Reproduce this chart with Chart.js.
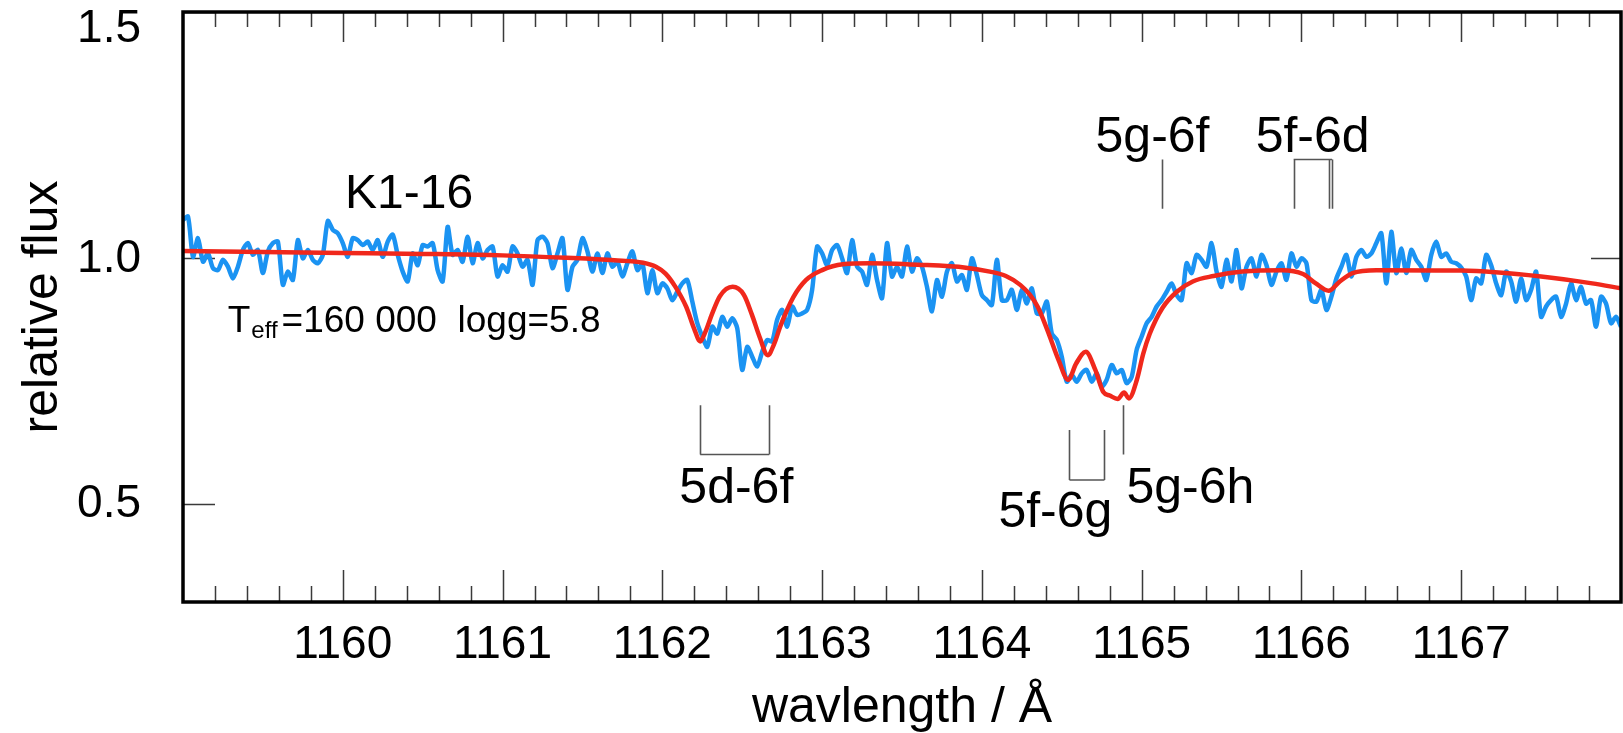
<!DOCTYPE html>
<html>
<head>
<meta charset="utf-8">
<title>K1-16 spectrum</title>
<script src="https://cdn.jsdelivr.net/npm/chart.js@4.4.1/dist/chart.umd.min.js"></script>
<style>
    html, body { margin: 0; padding: 0; background: #fff; }
    #wrap { width: 1623px; height: 733px; }
</style>
</head>
<body>
<div id="wrap"><canvas id="spectrumChart" width="1623" height="733"></canvas></div>
<script>
// ---- data ----

// observed spectrum (blue), sampled on a regular wavelength grid
const obsStart = 1159.0;
const obsStep = 0.03125;
const obsFlux = [
    1.077, 1.084, 1.002, 1.040, 0.992, 1.009, 0.979, 0.975, 0.996, 0.982,
    0.958, 0.982, 1.016, 1.030, 1.006, 1.016, 0.969, 1.013, 1.030, 1.033,
    0.945, 0.972, 0.955, 1.036, 0.999, 1.016, 0.996, 0.989, 1.006, 1.075,
    1.057, 1.050, 1.030, 1.002, 1.040, 1.036, 1.026, 1.033, 1.016, 1.036,
    1.002, 1.033, 1.047, 1.006, 0.972, 0.952, 1.009, 0.985, 1.026, 1.023,
    1.030, 0.975, 0.952, 1.063, 1.006, 1.016, 0.992, 1.043, 0.989, 1.030,
    0.999, 1.016, 1.023, 0.962,
    0.985, 0.972, 1.023, 1.009, 0.982, 0.996, 0.945, 1.036, 1.043, 1.030,
    0.979, 1.009, 1.040, 0.935, 0.982, 0.996, 1.040, 1.013, 0.972, 1.009,
    0.969, 1.009, 0.982, 0.992, 0.962, 0.989, 1.013, 0.975, 0.989, 0.928,
    0.975, 0.928, 0.948, 0.938, 0.914, 0.931, 0.948, 0.955, 0.911, 0.867,
    0.840, 0.819, 0.860, 0.846, 0.880, 0.860, 0.877, 0.857, 0.772, 0.819,
    0.799, 0.779, 0.809, 0.833, 0.830, 0.874, 0.894, 0.860, 0.901, 0.884,
    0.887, 0.894, 0.935, 1.023,
    1.009, 0.985, 1.016, 1.026, 0.999, 0.969, 1.036, 0.982, 0.972, 0.945,
    1.006, 0.955, 0.918, 1.030, 0.962, 0.982, 0.962, 1.023, 0.972, 0.999,
    0.982, 0.941, 0.891, 0.955, 0.921, 0.972, 0.989, 0.952, 0.965, 0.935,
    0.999, 0.965, 0.924, 0.914, 0.904, 0.996, 0.914, 0.914, 0.935, 0.894,
    0.935, 0.907, 0.938, 0.887, 0.887, 0.911, 0.846, 0.833, 0.799, 0.748,
    0.762, 0.748, 0.765, 0.772, 0.748, 0.765, 0.738, 0.752, 0.782, 0.765,
    0.772, 0.745, 0.758, 0.813,
    0.840, 0.867, 0.880, 0.901, 0.914, 0.931, 0.948, 0.924, 0.914, 0.989,
    0.969, 1.006, 0.996, 0.982, 1.030, 0.972, 0.941, 0.996, 0.952, 1.016,
    0.938, 0.982, 0.999, 0.962, 1.006, 0.985, 0.945, 0.972, 0.989, 0.955,
    1.009, 0.982, 0.999, 0.989, 0.914, 0.911, 0.935, 0.894, 0.921, 0.958,
    0.982, 1.006, 0.962, 1.002, 1.016, 1.002, 1.009, 1.030, 1.050, 0.948,
    1.053, 0.969, 1.019, 0.969, 1.016, 0.996, 0.982, 0.955, 1.006, 1.033,
    1.002, 1.009, 0.992, 0.989,
    0.980, 0.962, 0.914, 0.958, 0.948, 1.006, 0.985, 0.948, 0.924, 0.972,
    0.952, 0.911, 0.958, 0.914, 0.935, 0.972, 0.880, 0.901, 0.914, 0.921,
    0.880, 0.907, 0.948, 0.914, 0.941, 0.907, 0.914, 0.860, 0.921, 0.907,
    0.867, 0.880, 0.860
];

// model spectrum (red)
const modelWave = [
    1159.0, 1159.5, 1160.0, 1160.5, 1161.0, 1161.4, 1161.7, 1161.88, 1161.96, 1162.02,
    1162.08, 1162.15, 1162.20, 1162.237, 1162.27, 1162.31, 1162.36, 1162.44, 1162.51, 1162.56,
    1162.61, 1162.66, 1162.70, 1162.74, 1162.82, 1162.90, 1163.0, 1163.13, 1163.3, 1163.6,
    1163.9, 1164.05, 1164.15, 1164.24, 1164.30, 1164.35, 1164.41, 1164.48, 1164.54, 1164.59,
    1164.65, 1164.71, 1164.76, 1164.80, 1164.85, 1164.89, 1164.92, 1164.97, 1165.01, 1165.05,
    1165.13, 1165.22, 1165.32, 1165.45, 1165.63, 1165.88, 1166.01, 1166.09, 1166.17, 1166.24,
    1166.32, 1166.47, 1167.0, 1167.5, 1167.82, 1168.0
];
const modelFlux = [
    1.014, 1.012, 1.010, 1.008, 1.005, 1.000, 0.995, 0.990, 0.982, 0.968,
    0.942, 0.900, 0.855, 0.830, 0.850, 0.885, 0.922, 0.941, 0.925, 0.885,
    0.838, 0.802, 0.825, 0.862, 0.920, 0.955, 0.975, 0.987, 0.989, 0.986,
    0.980, 0.972, 0.963, 0.945, 0.925, 0.900, 0.853, 0.792, 0.752, 0.785,
    0.809, 0.772, 0.727, 0.720, 0.713, 0.726, 0.714, 0.752, 0.805, 0.845,
    0.898, 0.931, 0.952, 0.963, 0.972, 0.975, 0.967, 0.948, 0.933, 0.952,
    0.969, 0.975, 0.974, 0.962, 0.948, 0.938
];

// axis ticks
const xTicks = [1160, 1161, 1162, 1163, 1164, 1165, 1166, 1167];
const yTicks = [0.5, 1.0, 1.5];
const yTicksRight = [1.0];

// line identifications: wavelengths of the marks and the flux span of each mark
const lineIds = ['5d-6f', '5f-6g', '5g-6h', '5g-6f', '5f-6d'];
const lineWaves = [
    [1162.237, 1162.669],
    [1164.548, 1164.767],
    [1164.886],
    [1165.13],
    [1165.951, 1166.173, 1166.192]
];
const lineFluxFrom = [0.700, 0.650, 0.700, 1.100, 1.100];
const lineFluxTo = [0.600, 0.548, 0.600, 1.200, 1.200];
const lineLabelWave = [1162.463, 1164.46, 1165.305, 1165.068, 1166.07];
const lineLabelFlux = [0.501, 0.453, 0.501, 1.215, 1.215];

// ---- build chart data ----
const obsPoints = obsFlux.map((f, i) => ({ x: obsStart + i * obsStep, y: f }));
const modelPoints = modelWave.map((w, i) => ({ x: w, y: modelFlux[i] }));

const FONT = "'Liberation Sans', Arial, Helvetica, sans-serif";

/**
 * Frame, ticks, labels and line identifications
 */
const spectrumDecor = {
    id: 'spectrumDecor',

    beforeDatasetsDraw(chart) {
        const { ctx, chartArea: a, scales: { x, y } } = chart;
        ctx.save();
        ctx.strokeStyle = '#3a3a3a';
        ctx.lineWidth = 1.5;
        ctx.beginPath();
        // x ticks every 0.2 A, long ones on whole angstroms
        for (let k = 1; k < 45; k++) {
            const w = x.min + k * 0.2;
            const px = Math.round(x.getPixelForValue(w)) + 0.5;
            const major = Math.abs(w - Math.round(w)) < 0.01;
            ctx.moveTo(px, a.bottom);
            ctx.lineTo(px, a.bottom - (major ? 32 : 16));
            ctx.moveTo(px, a.top);
            ctx.lineTo(px, a.top + (major ? 30 : 15));
        }
        yTicks.forEach(v => {
            const py = Math.round(y.getPixelForValue(v)) + 0.5;
            ctx.moveTo(a.left, py);
            ctx.lineTo(a.left + 32, py);
        });
        yTicksRight.forEach(v => {
            const py = Math.round(y.getPixelForValue(v)) + 0.5;
            ctx.moveTo(a.right, py);
            ctx.lineTo(a.right - 30, py);
        });
        ctx.stroke();

        // marks of the line identifications
        ctx.strokeStyle = '#555';
        ctx.lineWidth = 1.6;
        ctx.beginPath();
        lineWaves.forEach((waves, i) => {
            const y0 = y.getPixelForValue(lineFluxFrom[i]);
            const y1 = y.getPixelForValue(lineFluxTo[i]);
            waves.forEach(w => {
                const px = Math.round(x.getPixelForValue(w)) + 0.5;
                ctx.moveTo(px, y0);
                ctx.lineTo(px, y1);
            });
            if (waves.length > 1) {
                ctx.moveTo(x.getPixelForValue(waves[0]), y1);
                ctx.lineTo(x.getPixelForValue(waves[waves.length - 1]), y1);
            }
        });
        ctx.stroke();
        ctx.restore();
    },

    afterDatasetsDraw(chart) {
        const { ctx, chartArea: a, scales: { x, y } } = chart;
        ctx.save();

        // frame
        ctx.strokeStyle = '#000';
        ctx.lineWidth = 3.5;
        ctx.strokeRect(a.left, a.top, a.right - a.left, a.bottom - a.top);

        ctx.fillStyle = '#000';

        // x tick labels
        ctx.font = '46px ' + FONT;
        ctx.textAlign = 'center';
        ctx.textBaseline = 'alphabetic';
        xTicks.forEach(v => {
            ctx.fillText(String(v), x.getPixelForValue(v), a.bottom + 56);
        });

        // y tick labels
        ctx.font = '46px ' + FONT;
        ctx.textAlign = 'right';
        ctx.textBaseline = 'middle';
        yTicks.forEach(v => {
            const py = Math.max(y.getPixelForValue(v), a.top + 16);
            ctx.fillText(v.toFixed(1), a.left - 42, py + 1);
        });

        // axis titles
        ctx.font = '50px ' + FONT;
        ctx.textAlign = 'center';
        ctx.textBaseline = 'alphabetic';
        ctx.fillText('wavlength / Å', (a.left + a.right) / 2, a.bottom + 120);

        ctx.save();
        ctx.translate(57, (a.top + a.bottom) / 2);
        ctx.rotate(-Math.PI / 2);
        ctx.fillText('relative flux', 0, 0);
        ctx.restore();

        // object name
        ctx.font = '48px ' + FONT;
        ctx.fillText('K1-16', x.getPixelForValue(1160.415), y.getPixelForValue(1.101));

        // model parameters
        let tx = x.getPixelForValue(1159.28);
        const ty = y.getPixelForValue(0.849);
        ctx.textAlign = 'left';
        ctx.font = '37px ' + FONT;
        ctx.fillText('T', tx, ty);
        tx += ctx.measureText('T').width;
        ctx.font = '24px ' + FONT;
        ctx.fillText('eff', tx + 1, ty + 6);
        tx += ctx.measureText('eff').width + 5;
        ctx.font = '37px ' + FONT;
        ctx.fillText('=160 000  logg=5.8', tx, ty);

        // line identification labels
        ctx.font = '50px ' + FONT;
        ctx.textAlign = 'center';
        lineIds.forEach((id, i) => {
            ctx.fillText(id, x.getPixelForValue(lineLabelWave[i]), y.getPixelForValue(lineLabelFlux[i]));
        });

        ctx.restore();
    }
};

const ctx = document.getElementById('spectrumChart');
const spectrumChart = new Chart(ctx, {
    type: 'line',
    data: {
        datasets: [
            {
                label: 'model',
                data: modelPoints,
                borderColor: '#f0281c',
                borderWidth: 4.5,
                pointRadius: 0,
                cubicInterpolationMode: 'monotone',
                borderJoinStyle: 'round',
                fill: false
            },
            {
                label: 'K1-16',
                data: obsPoints,
                borderColor: '#1b93f2',
                borderWidth: 4.5,
                pointRadius: 0,
                tension: 0.25,
                borderJoinStyle: 'round',
                fill: false
            }
        ]
    },
    options: {
        responsive: false,
        animation: false,
        devicePixelRatio: 1,
        layout: {
            padding: { left: 183, top: 12, right: 2, bottom: 131 }
        },
        plugins: {
            legend: { display: false },
            tooltip: { enabled: false }
        },
        scales: {
            x: { type: 'linear', min: 1159, max: 1168, display: false },
            y: { type: 'linear', min: 0.3, max: 1.5, display: false }
        }
    },
    plugins: [spectrumDecor]
});
</script>
</body>
</html>
